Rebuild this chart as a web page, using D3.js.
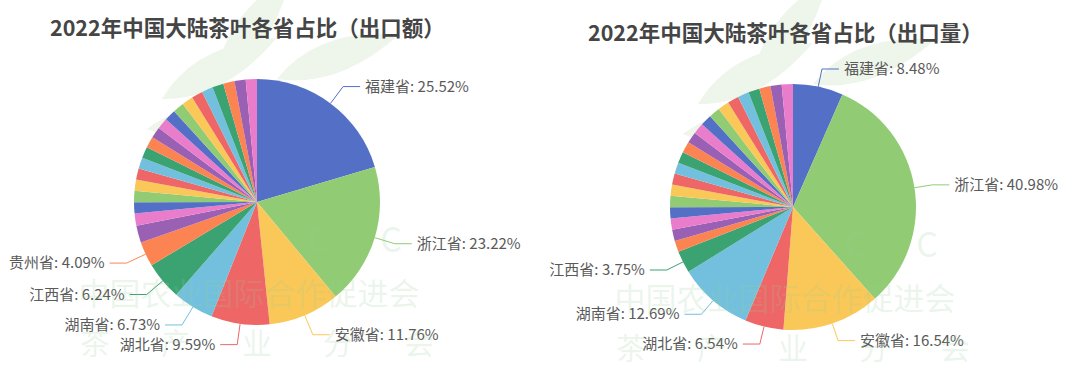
<!DOCTYPE html>
<html lang="zh">
<head>
<meta charset="UTF-8">
<title>2022年中国大陆茶叶各省占比</title>
<script src="https://cdn.jsdelivr.net/npm/d3@7"></script>
<style>
    body {
        margin: 0;
        background: #fff;
        font-family: "Noto Sans CJK SC", "Noto Sans", sans-serif;
    }
    svg { display: block; }
    .title { font-size: 21.5px; font-weight: bold; fill: #454545; }
    .label { font-size: 15px; fill: #5a5a5a; }
    .mark { fill: rgba(150, 205, 150, 0.2); }
</style>
</head>
<body>
<svg id="chart" width="1080" height="371"></svg>
<script>
// provinces in the order the slices are drawn (by export value)
const provinces = ["福建省", "浙江省", "安徽省", "湖北省", "湖南省", "江西省", "贵州省",
    "云南省", "广东省", "四川省", "广西壮族自治区", "河南省", "重庆市", "山东省", "上海市",
    "江苏省", "陕西省", "北京市", "海南省", "甘肃省", "新疆维吾尔自治区", "天津市", "辽宁省",
    "吉林省", "内蒙古自治区", "宁夏回族自治区", "黑龙江省"];

// share of export value, %
const valueShare = [25.52, 23.22, 11.76, 9.59, 6.73, 6.24, 4.09, 2.8, 2.0,
    0.85, 0.8, 0.75, 0.7, 0.65, 0.6, 0.55, 0.5, 0.45, 0.4, 0.35, 0.3, 0.28, 0.25, 0.2, 0.15, 0.12, 0.1];

// share of export volume, %
const volumeShare = [8.48, 40.98, 16.54, 6.54, 12.69, 3.75, 1.5, 1.2, 1.0,
    0.9, 0.8, 0.7, 0.65, 0.6, 0.55, 0.5, 0.45, 0.4, 0.35, 0.3, 0.28, 0.25, 0.22, 0.2, 0.15, 0.1, 0.08];

const valueLabelled = 7;   // first n slices carry a label
const volumeLabelled = 6;

const titles = ["2022年中国大陆茶叶各省占比（出口额）", "2022年中国大陆茶叶各省占比（出口量）"];

const palette = ["#5470c6", "#91cc75", "#fac858", "#ee6666", "#73c0de",
    "#3ba272", "#fc8452", "#9a60b4", "#ea7ccc"];

const svg = d3.select("#chart");
const color = d3.scaleOrdinal().domain(d3.range(palette.length)).range(palette);

const minAngle = 5.3; // degrees, small slices are widened to this
const radius = 123;

// tiny slices get at least minAngle, the rest share what is left
function pieWithMinAngle(values) {
    let floor = 0;
    for (let i = 0; i < 40; i++) {
        const total = d3.sum(values, v => Math.max(v, floor));
        floor = total * minAngle / 360;
    }
    return d3.pie().sort(null).value(v => Math.max(v, floor))(values);
}

function leaves(g) {
    const leaf = "M0,0 Q55,-34 130,0 Q55,30 0,0 Z";
    [[-95, 10, -28], [-40, -8, -55], [20, -10, -20], [-110, 40, -5]].forEach(([x, y, r]) => {
        g.append("path")
            .attr("d", leaf)
            .attr("transform", `translate(${x},${y}) rotate(${r})`)
            .attr("fill", "#eef5ea");
    });
}

function drawPie(cx, cy, values, nLabels, len1, title, titleX, titleY) {
    const g = svg.append("g").attr("transform", `translate(${cx},${cy})`);

    // faint leaf logo behind the pie
    leaves(g.append("g").attr("transform", `translate(0,${-radius + 10})`));

    const arcs = pieWithMinAngle(values);
    const arc = d3.arc().innerRadius(0).outerRadius(radius);

    g.selectAll("path.slice")
        .data(arcs)
        .enter().append("path")
        .attr("class", "slice")
        .attr("d", arc)
        .attr("fill", (d, i) => color(i % palette.length));

    const len2 = 17;
    const labelled = arcs.slice(0, nLabels);
    labelled.forEach((d, i) => {
        const a = (d.startAngle + d.endAngle) / 2;
        const sx = Math.sin(a), sy = -Math.cos(a);
        const p0 = [sx * radius, sy * radius];
        const p1 = [sx * (radius + len1), sy * (radius + len1)];
        const right = sx >= 0;
        const p2 = [p1[0] + (right ? len2 : -len2), p1[1]];
        g.append("polyline")
            .attr("points", [p0, p1, p2].map(p => p.join(",")).join(" "))
            .attr("fill", "none")
            .attr("stroke", color(i % palette.length))
            .attr("stroke-width", 1);
        g.append("text")
            .attr("class", "label")
            .attr("x", p2[0] + (right ? 5 : -5))
            .attr("y", p2[1])
            .attr("dy", "0.35em")
            .attr("text-anchor", right ? "start" : "end")
            .text(`${provinces[i]}: ${d.data.toFixed(2)}%`);
    });

    // watermark over the chart
    const wm = g.append("g");
    wm.append("text").attr("class", "mark")
        .attr("x", -8).attr("y", 103)
        .attr("text-anchor", "middle")
        .style("font-size", "31px")
        .text("中国农业国际合作促进会");
    ["茶", "产", "业", "分", "会"].forEach((c, i) => {
        wm.append("text").attr("class", "mark")
            .attr("x", -162 + i * 81).attr("y", 152)
            .attr("text-anchor", "middle")
            .style("font-size", "30px")
            .text(c);
    });
    ["C", "C"].forEach((c, i) => {
        wm.append("text").attr("class", "mark")
            .attr("x", 62 + i * 72).attr("y", 50)
            .attr("text-anchor", "middle")
            .style("font-size", "34px")
            .text(c);
    });

    svg.append("text")
        .attr("class", "title")
        .attr("x", titleX)
        .attr("y", titleY)
        .text(title);
}

drawPie(257, 202, valueShare, valueLabelled, 21, titles[0], 50, 36);
drawPie(793, 207, volumeShare, volumeLabelled, 18, titles[1], 588, 41);
</script>
</body>
</html>
